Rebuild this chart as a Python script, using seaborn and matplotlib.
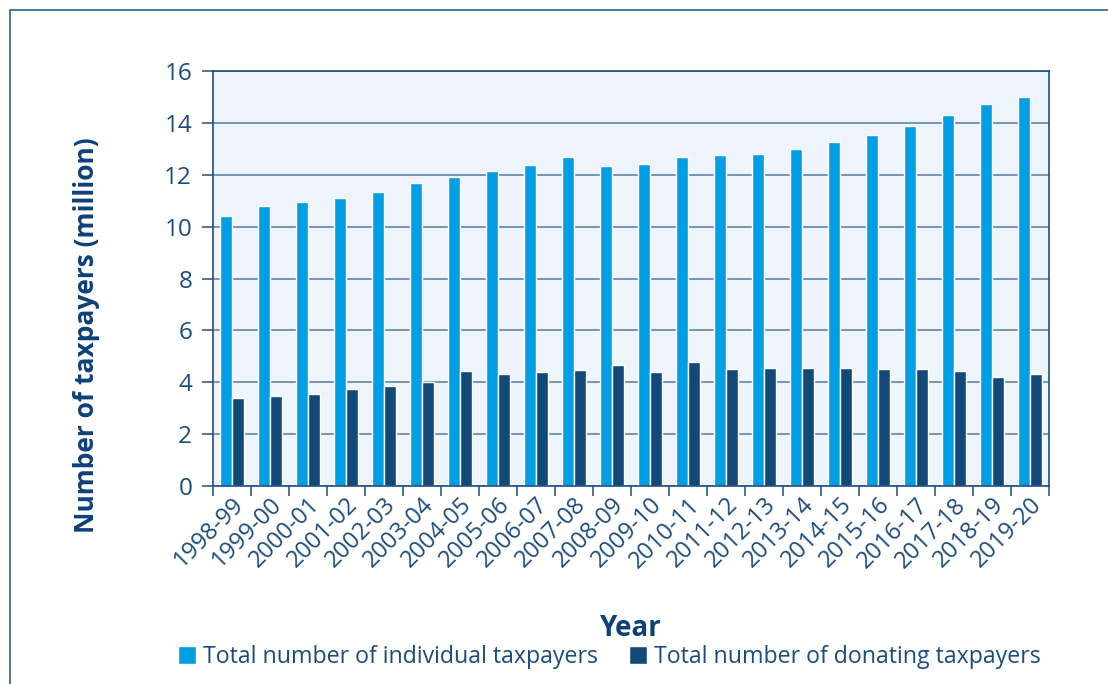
import pandas as pd
import seaborn as sns
import matplotlib.pyplot as plt
from matplotlib.patches import Rectangle
from matplotlib.ticker import FixedLocator

years = ["1998-99", "1999-00", "2000-01", "2001-02", "2002-03", "2003-04",
         "2004-05", "2005-06", "2006-07", "2007-08", "2008-09", "2009-10",
         "2010-11", "2011-12", "2012-13", "2013-14", "2014-15", "2015-16",
         "2016-17", "2017-18", "2018-19", "2019-20"]
individual = [10.40, 10.78, 10.95, 11.10, 11.35, 11.67, 11.91, 12.14, 12.36, 12.67,
              12.32, 12.40, 12.67, 12.76, 12.80, 12.98, 13.25, 13.52, 13.89, 14.31,
              14.71, 14.98]
donating = [3.38, 3.47, 3.56, 3.73, 3.84, 4.00, 4.45, 4.32, 4.39, 4.47,
            4.65, 4.39, 4.78, 4.52, 4.54, 4.54, 4.56, 4.50, 4.51, 4.42,
            4.20, 4.33]
series = ["Total number of individual taxpayers", "Total number of donating taxpayers"]

df = pd.DataFrame({
    "Year": years * 2,
    "value": individual + donating,
    "series": [series[0]] * len(years) + [series[1]] * len(years),
})

light = "#009fe3"
dark = "#114a78"
txt = "#1b4c7e"
grid_c = "#557ba0"

sns.set_theme(style="white")
plt.rcParams["font.family"] = ["Open Sans", "DejaVu Sans"]

fig = plt.figure(figsize=(11.08, 6.84), dpi=100)
ax = fig.add_axes([213 / 1108, 1 - 486 / 684, (1049 - 213) / 1108, (486 - 71) / 684])
ax.set_facecolor("#edf4fb")

sns.barplot(data=df, x="Year", y="value", hue="series", order=years,
            hue_order=series, palette=[light, dark], width=0.62, gap=0,
            saturation=1, ax=ax, legend=True)

ax.set_xlim(-0.5, len(years) - 0.5)
ax.set_ylim(0, 16)
ax.set_yticks(range(0, 17, 2))
ax.yaxis.grid(True, color=grid_c, linewidth=1.1)
ax.set_axisbelow(True)

for s in ax.spines.values():
    s.set_visible(True)
    s.set_color("#1f4f7f")
    s.set_linewidth(1.2)

# ticks between categories, labels at centres
ax.xaxis.set_minor_locator(FixedLocator([i - 0.5 for i in range(len(years) + 1)]))
ax.tick_params(axis="x", which="minor", length=7, width=1.1, color="#1f4f7f", direction="out", bottom=True)
ax.tick_params(axis="x", which="major", length=0, pad=5)
ax.tick_params(axis="y", length=8, width=1.1, color="#1f4f7f", direction="out", left=True, pad=7)

ax.set_xticks(range(len(years)))
ax.set_xticklabels(years, rotation=45, ha="right", rotation_mode="anchor",
                   fontsize=17, color=txt)
for lab in ax.get_yticklabels():
    lab.set_fontsize(17.5)
    lab.set_color(txt)

ax.set_xlabel("Year", fontsize=20, fontweight="bold", color="#0d4079", labelpad=30)
ax.set_ylabel("Number of taxpayers (million)", fontsize=19, fontweight="bold",
              color="#0d4079")
ax.yaxis.set_label_coords(-0.135, 0.364)

handles, labels = ax.get_legend_handles_labels()
ax.get_legend().remove()
fig.legend(handles, labels, loc="center", bbox_to_anchor=(0.55, 1 - 657 / 684),
           ncol=2, frameon=False, fontsize=16.7, handlelength=0.78, handleheight=0.78,
           handletextpad=0.3, columnspacing=1.3, labelcolor=txt, borderaxespad=0)

# outer frame (cut off at right and bottom like the source)
fig.patches.append(Rectangle((10 / 1108, -0.1), 1.5, 1 - 10 / 684 + 0.1,
                             transform=fig.transFigure, fill=False,
                             edgecolor="#2f5f8f", linewidth=1.2))

fig.savefig("out.png", dpi=100)
